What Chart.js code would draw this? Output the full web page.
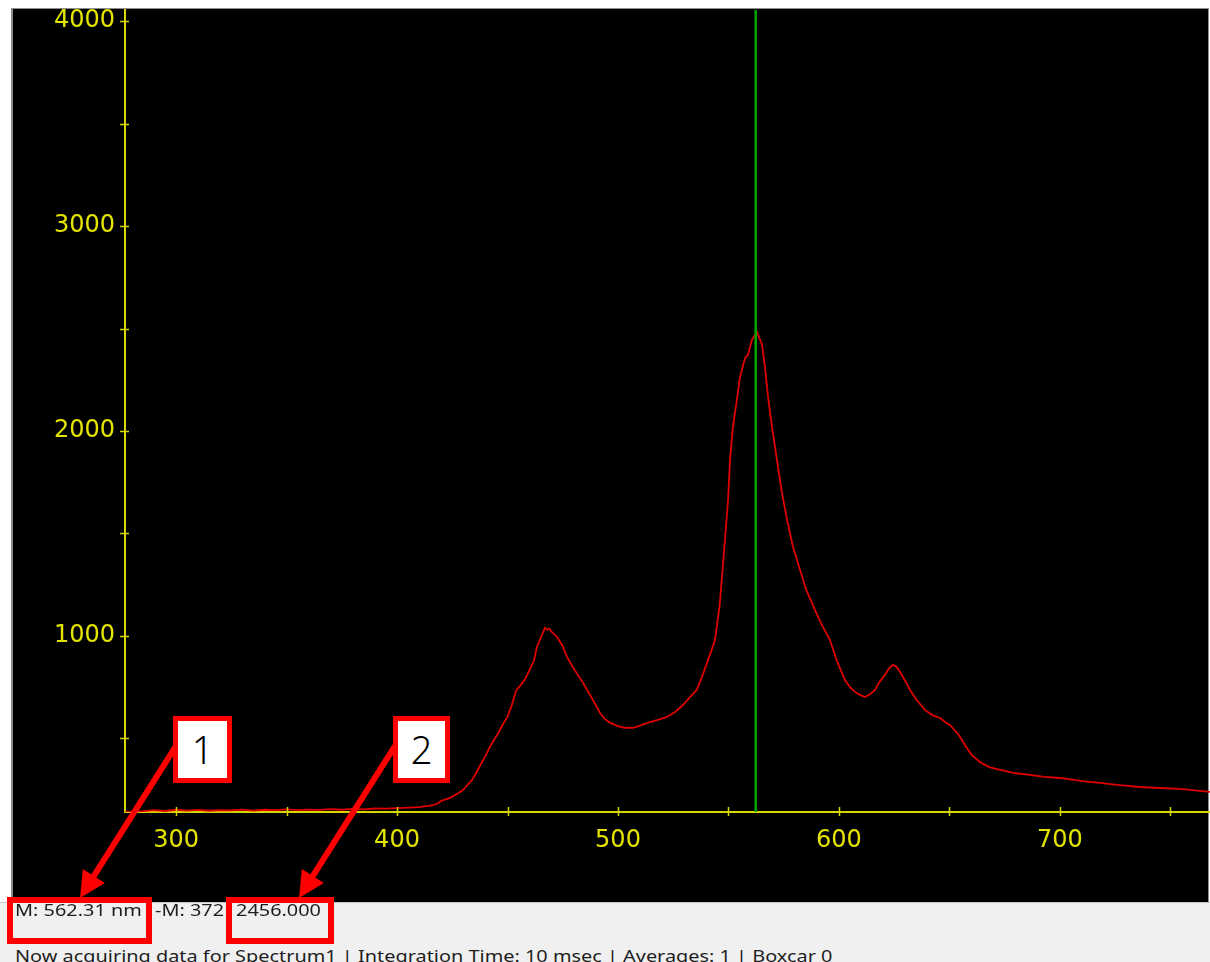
<!DOCTYPE html>
<html>
<head>
<meta charset="utf-8">
<script src="https://cdn.jsdelivr.net/npm/chart.js@4"></script>
<style>
  html, body { margin: 0; padding: 0; background: #fff; }
  #wrap { position: relative; width: 1210px; height: 962px; overflow: hidden; }
  #chart { position: absolute; left: 0; top: 0; }
  #status { position: absolute; left: 0; top: 902px; width: 1210px; height: 60px; background: #f0f0f0; border-top: 1px solid #c8c8c8; box-sizing: border-box; }
  .st { position: absolute; font-family: "Noto Sans", sans-serif; font-size: 17px; line-height: 20px; color: #1e1e1e; white-space: nowrap; transform-origin: 0 0; transform: scaleX(1.17); }
  .redbox { position: absolute; border: 6px solid #f00; box-sizing: border-box; }
  .numbox { position: absolute; border: 5px solid #f00; background: #fff; box-sizing: border-box; font-family: "Noto Sans", sans-serif; font-size: 38px; font-weight: 300; color: #000; text-align: center; }
  #arrows { position: absolute; left: 0; top: 0; pointer-events: none; }
</style>
</head>
<body>
<div id="wrap">
  <canvas id="chart" width="1210" height="902"></canvas>
  <div id="status"></div>
  <svg id="arrows" width="1210" height="962"></svg>
</div>
<script>
// spectrum (nm, counts)
const wavelengths = [
  277, 285, 290, 295, 300, 305, 310, 315, 320, 325, 330, 335, 340, 345, 350, 355, 360, 365, 370, 375,
  380, 385, 390, 395, 400, 405, 410, 415, 418, 420, 424, 428, 430, 432, 434, 436, 438, 440, 442, 444,
  446, 448, 450, 452, 454, 456, 458, 460, 462, 463.3, 465, 467, 468, 469, 470, 472.4, 475, 476.9, 480, 484.2,
  488, 491.9, 494, 496.4, 500, 503, 506.8, 510, 514.5, 518, 522.2, 526, 529.4, 532, 535.7, 538, 540, 542, 543.9, 546,
  548.4, 549.8, 550.7, 552, 553.8, 555.2, 557.5, 558.8, 560.6, 562.9, 565.2, 566.5, 567.9, 569.7, 571.9, 574.2, 576.5, 579.2, 582.4, 585,
  589.1, 592, 595.9, 599, 602.7, 605, 607.2, 609, 611.8, 614, 616.3, 618, 620.8, 622.5, 624.4, 626, 627.6, 630, 632.1, 635,
  638.9, 642, 645.7, 648, 650.2, 654, 657, 660, 663.8, 668, 672.9, 680, 686.4, 693, 700, 710, 718.1, 727, 736.2, 745,
  754.3, 760, 767.9
];
const counts = [
  142, 145, 150, 146, 152, 148, 151, 147, 150, 149, 153, 148, 152, 150, 154, 150, 153, 151, 155, 152,
  156, 154, 158, 157, 160, 162, 165, 172, 180, 195, 210, 235, 249, 275, 298, 335, 375, 415, 459, 495,
  530, 570, 605, 665, 737, 760, 790, 834, 880, 946, 990, 1040, 1030, 1035, 1020, 995, 950, 898, 840, 771,
  700, 624, 595, 576, 560, 552, 551, 562, 580, 590, 605, 630, 663, 695, 737, 800, 860, 920, 980, 1150,
  1468, 1663, 1859, 2020, 2151, 2263, 2356, 2371, 2444, 2483, 2420, 2312, 2166, 2020, 1859, 1698, 1566, 1434, 1322, 1230,
  1127, 1060, 980, 880, 785, 750, 727, 715, 702, 715, 737, 770, 810, 840, 859, 850, 824, 780, 737, 690,
  639, 615, 600, 580, 566, 520, 468, 420, 385, 360, 346, 330, 322, 312, 307, 292, 283, 272, 263, 258,
  254, 248, 239
];
const markerWavelength = 562.31;
const xRange = [276.9, 767.9];
const yRange = [141, 4054];
const xTicks = [300, 350, 400, 450, 500, 550, 600, 650, 700, 750];
const yTicks = [500, 1000, 1500, 2000, 2500, 3000, 3500, 4000];
const xTickLabels = [300, 400, 500, 600, 700];
const yTickLabels = [1000, 2000, 3000, 4000];
const statusLine1 = ['M: 562.31 nm', '-M: 372', '2456.000'];
const statusLine2 = 'Now acquiring data for Spectrum1 | Integration Time: 10 msec | Averages: 1 | Boxcar 0';
const calloutLabels = ['1', '2'];

const yellow = '#e4e400';
const axisYellow = '#d6d600';

const panelPlugin = {
  id: 'panel',
  beforeDraw(chart) {
    const ctx = chart.ctx;
    ctx.save();
    ctx.fillStyle = '#fff';
    ctx.fillRect(0, 0, chart.width, chart.height);
    ctx.fillStyle = '#8c8c8c';
    ctx.fillRect(11, 8, 1198, 894);
    ctx.fillStyle = '#000';
    ctx.fillRect(13, 9, 1195, 893);
    ctx.restore();
  },
  afterDraw(chart) {
    // short ticks crossing both axes
    const ctx = chart.ctx;
    const xs = chart.scales.x, ys = chart.scales.y;
    const area = chart.chartArea;
    ctx.save();
    ctx.strokeStyle = axisYellow;
    ctx.lineWidth = 1.5;
    xTicks.forEach(v => {
      const px = Math.round(xs.getPixelForValue(v)) + 0.5;
      ctx.beginPath();
      ctx.moveTo(px, area.bottom - 5);
      ctx.lineTo(px, area.bottom + 4);
      ctx.stroke();
    });
    yTicks.forEach(v => {
      const py = Math.round(ys.getPixelForValue(v)) + 0.5;
      ctx.beginPath();
      ctx.moveTo(area.left - 5, py);
      ctx.lineTo(area.left + 4, py);
      ctx.stroke();
    });
    ctx.restore();
  }
};

new Chart(document.getElementById('chart'), {
  type: 'line',
  data: {
    datasets: [
      {
        label: 'marker',
        data: [{ x: markerWavelength, y: yRange[0] }, { x: markerWavelength, y: yRange[1] }],
        borderColor: '#00a800',
        borderWidth: 2.5,
        pointRadius: 0,
        order: 0
      },
      {
        label: 'Spectrum1',
        data: wavelengths.map((w, i) => ({ x: w, y: counts[i] })),
        borderColor: '#e00000',
        borderWidth: 1.8,
        pointRadius: 0,
        tension: 0,
        order: 1
      }
    ]
  },
  options: {
    responsive: false,
    animation: false,
    layout: { padding: { top: 10, left: 0, right: 0, bottom: 0 } },
    plugins: { legend: { display: false }, tooltip: { enabled: false } },
    scales: {
      x: {
        type: 'linear',
        min: xRange[0],
        max: xRange[1],
        afterBuildTicks: s => { s.ticks = xTickLabels.map(v => ({ value: v })); },
        afterFit: s => { s.height = 90; s.paddingLeft = 0; s.paddingRight = 0; },
        grid: { display: false, drawTicks: false },
        border: { display: true, color: axisYellow, width: 2 },
        ticks: {
          autoSkip: false,
          maxRotation: 0,
          padding: 14,
          color: yellow,
          font: { family: 'DejaVu Sans', size: 24 },
          callback: v => String(Math.round(v))
        }
      },
      y: {
        type: 'linear',
        min: yRange[0],
        max: yRange[1],
        afterBuildTicks: s => { s.ticks = yTickLabels.map(v => ({ value: v })); },
        afterFit: s => { s.width = 125; s.paddingTop = 0; s.paddingBottom = 0; },
        grid: { display: false, drawTicks: false },
        border: { display: true, color: axisYellow, width: 2 },
        ticks: {
          autoSkip: false,
          padding: 10,
          color: yellow,
          font: { family: 'DejaVu Sans', size: 24 },
          callback: v => String(Math.round(v))
        }
      }
    }
  },
  plugins: [panelPlugin]
});

// status bar text and red highlight boxes
const status = document.getElementById('status');
function addText(txt, left, top) {
  const s = document.createElement('div');
  s.className = 'st';
  s.textContent = txt;
  s.style.left = left + 'px';
  s.style.top = top + 'px';
  status.appendChild(s);
}
addText(statusLine1[0], 15, -3);
addText(statusLine1[1], 155, -3);
addText(statusLine1[2], 236, -3);
addText(statusLine2, 15, 43);

const wrap = document.getElementById('wrap');
function addBox(cls, l, t, w, h, txt) {
  const b = document.createElement('div');
  b.className = cls;
  b.style.left = l + 'px';
  b.style.top = t + 'px';
  b.style.width = w + 'px';
  b.style.height = h + 'px';
  if (txt) { b.textContent = txt; b.style.lineHeight = (h - 10) + 'px'; }
  wrap.appendChild(b);
  return b;
}
addBox('redbox', 7, 897, 145, 47);
addBox('redbox', 226, 897, 108, 47);

// arrows from the numbered callouts down to the boxes
const svg = document.getElementById('arrows');
function arrow(x1, y1, x2, y2) {
  const dx = x2 - x1, dy = y2 - y1, len = Math.hypot(dx, dy);
  const ux = dx / len, uy = dy / len, nx = -uy, ny = ux;
  const head = 26, half = 13;
  const bx = x2 - ux * head, by = y2 - uy * head;
  const ns = 'http://www.w3.org/2000/svg';
  const line = document.createElementNS(ns, 'line');
  line.setAttribute('x1', x1); line.setAttribute('y1', y1);
  line.setAttribute('x2', bx + ux * 2); line.setAttribute('y2', by + uy * 2);
  line.setAttribute('stroke', '#f00'); line.setAttribute('stroke-width', 6);
  svg.appendChild(line);
  const poly = document.createElementNS(ns, 'polygon');
  poly.setAttribute('points', `${x2},${y2} ${bx + nx * half},${by + ny * half} ${bx - nx * half},${by - ny * half}`);
  poly.setAttribute('fill', '#f00');
  svg.appendChild(poly);
}
arrow(176, 746, 80, 898);
arrow(395, 746, 299, 898);

addBox('numbox', 173, 716, 59, 67, calloutLabels[0]);
addBox('numbox', 393, 716, 57, 67, calloutLabels[1]);
</script>
</body>
</html>
